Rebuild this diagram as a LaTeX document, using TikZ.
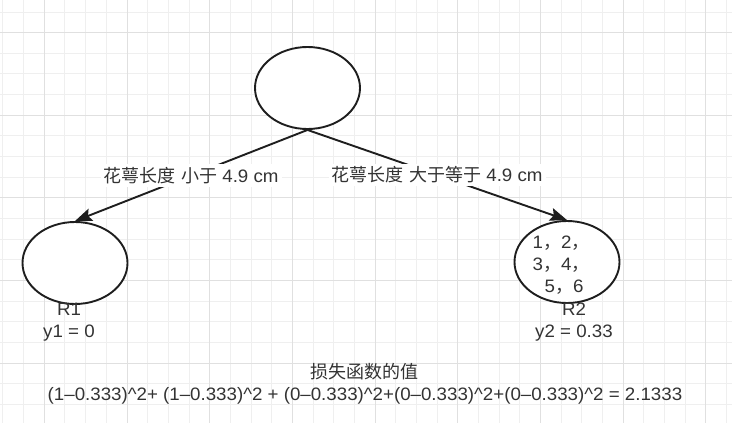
\documentclass[tikz,border=0pt]{standalone}
\usepackage{fontspec}
\setmainfont[FakeStretch=1.04]{Liberation Sans}
\newfontfamily\cjk{Noto Sans CJK SC}
\usetikzlibrary{shapes.geometric,arrows.meta}
\definecolor{gridminor}{HTML}{EFEFEF}
\definecolor{gridmajor}{HTML}{E0E0E0}
\definecolor{txt}{HTML}{333333}
\definecolor{ln}{HTML}{1E1E1E}
\newcommand{\fc}{{\cjk ，}}
\newcommand{\sq}{\textasciicircum}
\tikzset{
  oval/.style={ellipse, draw=ln, line width=1.9pt, fill=white, minimum width=105pt, minimum height=82pt, inner sep=0pt},
  edgearrow/.style={draw=ln, line width=1.9pt, -{Stealth[length=17pt,width=13pt,inset=3pt]}},
  lbl/.style={fill=white, text=txt, inner sep=3pt, font=\fontsize{18}{22}\selectfont},
  txtnode/.style={text=txt, align=center, inner sep=0pt, font=\fontsize{18}{22}\selectfont},
  minorline/.style={draw=gridminor, line width=1pt},
  majorline/.style={draw=gridmajor, line width=1pt},
}
\begin{document}
\begin{tikzpicture}[x=1pt,y=-1pt]
\useasboundingbox (0,0) rectangle (732,423);
\fill[white] (0,0) rectangle (732,423);
% grid
\foreach \i in {0,...,35} {\draw[minorline] ({2.98+20.67*\i},0) -- ({2.98+20.67*\i},423);}
\foreach \j in {0,...,19} {\draw[minorline] (0,{12.04+20.65*\j}) -- (732,{12.04+20.65*\j});}
\foreach \i in {2,6,...,34} {\draw[majorline] ({2.98+20.67*\i},0) -- ({2.98+20.67*\i},423);}
\foreach \j in {1,5,...,17} {\draw[majorline] (0,{12.04+20.65*\j}) -- (732,{12.04+20.65*\j});}
% nodes
\node[oval] (root) at (307.5,88) {};
\node[oval] (L) at (75,263) {};
\node[oval] (R) at (567,262) {};
\draw[edgearrow] (root.south) -- node[lbl] (lblL) {{\cjk 花萼长度} {\cjk 小于} 4.9 cm} (L.north);
\draw[edgearrow] (root.south) -- node[lbl] (lblR) {{\cjk 花萼长度} {\cjk 大于等于} 4.9 cm} (R.north);
\node[txtnode] (nums) at (561,265) {1\fc 2\fc\\3\fc 4\fc\\\hspace*{6pt}5\fc 6};
\node[txtnode] (R1lab) at (69,322.5) {R1\\y1 = 0};
\node[txtnode] (R2lab) at (574,322.5) {R2\\y2 = 0.33};
\node[txtnode] (loss) at (365,384) {{\cjk 损失函数的值}\\(1–0.333)\sq2+ (1–0.333)\sq2 + (0–0.333)\sq2+(0–0.333)\sq2+(0–0.333)\sq2 = 2.1333};
\end{tikzpicture}
\end{document}
